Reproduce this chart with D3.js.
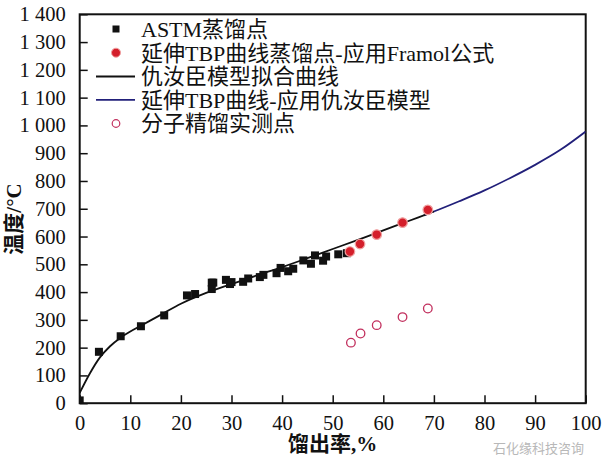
<!DOCTYPE html>
<html><head><meta charset="utf-8">
<script src="https://cdn.jsdelivr.net/npm/d3@7"></script>
<style>
html,body{margin:0;padding:0;background:#fff;}
text{font-family:"Liberation Serif","Times New Roman","Noto Sans CJK SC",serif;}
</style></head>
<body>
<svg id="chart" width="604" height="456"></svg>
<script>
// ---- data ----
const astmX = [0, 3.8, 8.1, 12.1, 16.7, 21.2, 22.8, 26.1, 26.4, 26.1, 28.9, 29.7, 30.0, 32.3, 33.3, 35.6, 36.3, 38.9, 39.7, 41.2, 42.2, 44.2, 45.7, 46.5, 48.1, 48.7, 51.1, 52.8];
const astmY = [10, 185, 241, 277, 316, 388, 393, 434, 434, 411, 444, 429, 436, 437, 449, 454, 462, 468, 487, 475, 484, 514, 502, 532, 513, 528, 536, 540];
const framolX = [53.4, 55.4, 58.7, 63.8, 68.8];
const framolY = [546, 573, 607, 650, 696];
const molX = [53.6, 55.5, 58.7, 63.8, 68.8];
const molY = [218, 251, 281, 310, 341];
const fitX = [0, 2, 4, 6, 8, 10, 12, 16, 20, 25, 30, 35, 40, 45, 50, 55, 60, 65, 70];
const fitY = [37, 107, 165, 205, 235, 258, 278, 318, 358, 397, 429, 460, 490, 522, 555, 588, 622, 656, 690];
const extX = [68, 70, 75, 80, 85, 90, 95, 100];
const extY = [676, 690, 727, 766, 810, 858, 912, 978];
const xTicks = [0, 10, 20, 30, 40, 50, 60, 70, 80, 90, 100];
const yTicks = [0, 100, 200, 300, 400, 500, 600, 700, 800, 900, 1000, 1100, 1200, 1300, 1400];
const yTickLabels = ["0", "100", "200", "300", "400", "500", "600", "700", "800", "900", "1 000", "1 100", "1 200", "1 300", "1 400"];
const legendLabels = ["ASTM蒸馏点", "延伸TBP曲线蒸馏点-应用Framol公式", "仇汝臣模型拟合曲线", "延伸TBP曲线-应用仇汝臣模型", "分子精馏实测点"];
const xTitle = "馏出率,%";
const yTitle = "温度/°C";
const watermark = "石化缘科技咨询";

// ---- layout ----
const svg = d3.select("#chart");
const L = 79.7, R = 585.7, T = 14.3, B = 403.2;
const x = d3.scaleLinear().domain([0, 100]).range([L, R]);
const y = d3.scaleLinear().domain([0, 1400]).range([B, T]);

const red = "#d41f2b", navy = "#22207a", pink = "#c2305e";

// axes with inward ticks
const xAxis = svg.append("g").attr("transform", `translate(0,${B})`)
  .call(d3.axisBottom(x).tickValues(xTicks).tickSizeInner(-8).tickSizeOuter(0).tickPadding(12));
const yAxis = svg.append("g").attr("transform", `translate(${L},0)`)
  .call(d3.axisLeft(y).tickValues(yTicks).tickSizeInner(-8).tickSizeOuter(0).tickPadding(14)
    .tickFormat((d, i) => yTickLabels[i]));
[xAxis, yAxis].forEach(g => {
  g.attr("font-family", null);
  g.select(".domain").remove();
  g.selectAll("line").attr("stroke", "#111").attr("stroke-width", 1.5);
  g.selectAll("text").attr("fill", "#111").style("font-size", "20.5px")
    .style("font-family", '"Liberation Serif",serif');
});

// frame
svg.append("rect").attr("x", L).attr("y", T).attr("width", R - L).attr("height", B - T)
  .attr("fill", "none").attr("stroke", "#111").attr("stroke-width", 2);

svg.append("clipPath").attr("id", "clip").append("rect")
  .attr("x", L).attr("y", T).attr("width", R - L).attr("height", B - T);
const plot = svg.append("g").attr("clip-path", "url(#clip)");

const line = d3.line().x(d => x(d[0])).y(d => y(d[1])).curve(d3.curveMonotoneX);
plot.append("path").datum(extX.map((v, i) => [v, extY[i]])).attr("d", line)
  .attr("fill", "none").attr("stroke", navy).attr("stroke-width", 1.8);
plot.append("path").datum(fitX.map((v, i) => [v, fitY[i]])).attr("d", line)
  .attr("fill", "none").attr("stroke", "#111").attr("stroke-width", 1.8);

const sq = 8;
plot.selectAll("rect.astm").data(astmX.map((v, i) => [v, astmY[i]])).enter().append("rect")
  .attr("class", "astm").attr("x", d => x(d[0]) - sq / 2).attr("y", d => y(d[1]) - sq / 2)
  .attr("width", sq).attr("height", sq).attr("fill", "#111");

plot.selectAll("circle.fr").data(framolX.map((v, i) => [v, framolY[i]])).enter().append("circle")
  .attr("class", "fr").attr("cx", d => x(d[0])).attr("cy", d => y(d[1])).attr("r", 4.8)
  .attr("fill", red).attr("stroke", "#f0a0a0").attr("stroke-width", 1.2);

plot.selectAll("circle.mol").data(molX.map((v, i) => [v, molY[i]])).enter().append("circle")
  .attr("class", "mol").attr("cx", d => x(d[0])).attr("cy", d => y(d[1])).attr("r", 4.3)
  .attr("fill", "none").attr("stroke", pink).attr("stroke-width", 1.3);

// legend
const lg = svg.append("g");
const rowsY = [29, 52.7, 76.5, 99.8, 123.5];
legendLabels.forEach((t, i) => {
  const cy = rowsY[i];
  if (i === 0) lg.append("rect").attr("x", 116 - 3.5).attr("y", cy - 3.5).attr("width", 7).attr("height", 7).attr("fill", "#111");
  if (i === 1) lg.append("circle").attr("cx", 116).attr("cy", cy).attr("r", 4.5).attr("fill", red).attr("stroke", "#f0a0a0");
  if (i === 2) lg.append("line").attr("x1", 96).attr("x2", 135).attr("y1", cy).attr("y2", cy).attr("stroke", "#111").attr("stroke-width", 1.8);
  if (i === 3) lg.append("line").attr("x1", 96).attr("x2", 135).attr("y1", cy).attr("y2", cy).attr("stroke", navy).attr("stroke-width", 1.8);
  if (i === 4) lg.append("circle").attr("cx", 116).attr("cy", cy).attr("r", 3.8).attr("fill", "none").attr("stroke", pink).attr("stroke-width", 1.2);
  lg.append("text").attr("x", 141).attr("y", cy).attr("dy", "0.36em")
    .style("font-size", "22px").attr("fill", "#111").text(t);
});

// axis titles
svg.append("text").attr("x", (L + R) / 2).attr("y", 451).attr("text-anchor", "middle")
  .style("font-size", "21px").style("font-weight", "bold").attr("fill", "#111").text(xTitle);
svg.append("text").attr("transform", "translate(21,219) rotate(-90)").attr("text-anchor", "middle")
  .style("font-size", "21px").style("font-weight", "bold").attr("fill", "#111").text(yTitle);

// watermark (placed just below the tick labels)
svg.append("text").attr("x", 584).attr("y", 453).attr("text-anchor", "end")
  .style("font-size", "13px").attr("fill", "#b8b8b8").style("font-family", '"Noto Sans CJK SC",sans-serif').text(watermark);
</script>
</body></html>
